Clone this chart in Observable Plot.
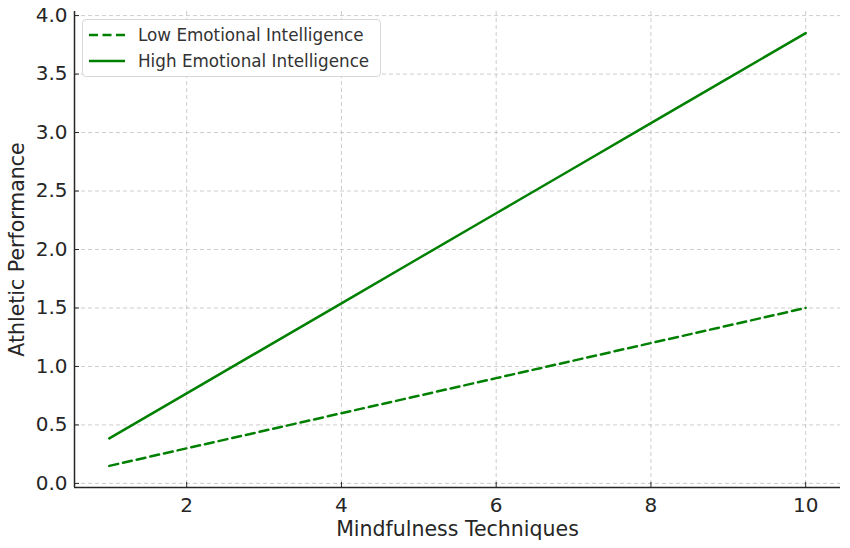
<!DOCTYPE html>
<html><head><meta charset="utf-8">
<script src="https://cdn.jsdelivr.net/npm/d3@7"></script>
<script src="https://cdn.jsdelivr.net/npm/@observablehq/plot@0.6"></script>
<style>
body{margin:0;background:#fff;font-family:"DejaVu Sans",sans-serif;}
#wrap{position:relative;width:850px;height:548px;}
#legend{position:absolute;left:82px;top:19px;width:297px;height:56px;border:1px solid #d8d8d8;border-radius:4px;background:rgba(255,255,255,0.9);font-size:16.8px;color:#333;}
.row{position:absolute;left:0;height:22px;display:flex;align-items:center;white-space:nowrap;}
.row svg{margin-left:6px;margin-right:13px;}
</style></head><body>
<div id="wrap"></div>
<script>
const techniques = [1,2,3,4,5,6,7,8,9,10];
const lowEI = [0.15,0.30,0.45,0.60,0.75,0.90,1.05,1.20,1.35,1.50];
const highEI = [0.385,0.77,1.155,1.54,1.925,2.31,2.695,3.08,3.465,3.85];
const seriesNames = ["Low Emotional Intelligence","High Emotional Intelligence"];
const xTicks = [2,4,6,8,10];
const yTicks = [0,0.5,1,1.5,2,2.5,3,3.5,4];

const data = [];
techniques.forEach((t,i)=>{
  data.push({x:t,y:lowEI[i],s:seriesNames[0]});
  data.push({x:t,y:highEI[i],s:seriesNames[1]});
});
const green = "#008000";
const chart = Plot.plot({
  width:850, height:548,
  marginLeft:74, marginRight:10, marginTop:11, marginBottom:61,
  style:{fontFamily:"DejaVu Sans", fontSize:"20px", color:"#262626", background:"#fff"},
  x:{domain:[0.55,10.45]},
  y:{domain:[-0.035,4.035]},
  marks:[
    Plot.gridX(xTicks,{stroke:"#b0b0b0",strokeOpacity:0.8,strokeDasharray:"4,3",strokeWidth:0.8}),
    Plot.gridY(yTicks,{stroke:"#b0b0b0",strokeOpacity:0.8,strokeDasharray:"4,3",strokeWidth:0.8}),
    Plot.line(data.filter(d=>d.s===seriesNames[0]),{x:"x",y:"y",stroke:green,strokeWidth:2.5,strokeDasharray:"9,5"}),
    Plot.line(data.filter(d=>d.s===seriesNames[1]),{x:"x",y:"y",stroke:green,strokeWidth:2.5}),
    Plot.axisX(xTicks,{tickSize:-5,tickPadding:15,label:null,fontSize:20,stroke:"#262626"}),
    Plot.axisY(yTicks,{tickSize:-5,tickPadding:12,label:null,fontSize:20,tickFormat:d3.format(".1f"),stroke:"#262626"}),
    Plot.ruleY([-0.035],{stroke:"#262626",strokeWidth:1.5}),
    Plot.ruleX([0.55],{stroke:"#262626",strokeWidth:1.5}),
    Plot.text(["Mindfulness Techniques"],{frameAnchor:"bottom",dy:48,fontSize:20.5,fill:"#262626"}),
    Plot.text(["Athletic Performance"],{frameAnchor:"left",textAnchor:"middle",dx:-57,rotate:-90,fontSize:20.5,fill:"#262626"})
  ]
});
const wrap = document.getElementById("wrap");
wrap.appendChild(chart);
const lg = document.createElement("div");
lg.id="legend";
lg.innerHTML = `
<div class="row" style="top:4px"><svg width="36" height="6"><line x1="0" y1="3" x2="36" y2="3" stroke="${green}" stroke-width="2.5" stroke-dasharray="9,4.5"/></svg>${seriesNames[0]}</div>
<div class="row" style="top:30px"><svg width="36" height="6"><line x1="0" y1="3" x2="36" y2="3" stroke="${green}" stroke-width="2.5"/></svg>${seriesNames[1]}</div>`;
wrap.appendChild(lg);
</script>
</body></html>
